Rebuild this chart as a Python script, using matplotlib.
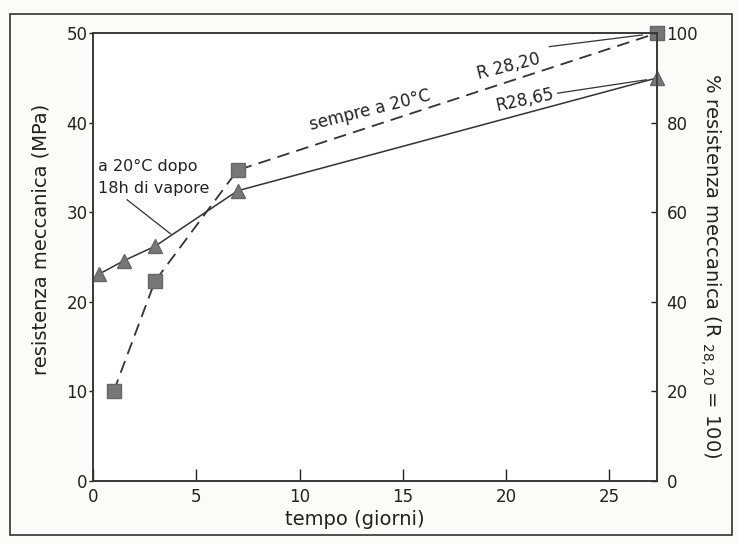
import matplotlib.pyplot as plt
from matplotlib.patches import Rectangle

# R 28,20 : sempre a 20°C (quadrati, tratteggio)
giorni_20 = [1, 3, 7, 27.3]
res_20 = [10.0, 22.3, 34.7, 50.0]

# R 28,65 : a 20°C dopo 18h di vapore (triangoli, linea continua)
giorni_65 = [0.3, 1.5, 3, 7, 27.3]
res_65 = [23.1, 24.6, 26.2, 32.4, 45.0]

x_ticks = [0, 5, 10, 15, 20, 25]
y_ticks = [0, 10, 20, 30, 40, 50]
perc_ticks = [0, 20, 40, 60, 80, 100]

txt = '#222222'
fig = plt.figure(figsize=(7.38, 5.44), dpi=100, facecolor='#fbfbfa')
fig.patches.append(Rectangle((0.014, 0.017), 0.978, 0.958, transform=fig.transFigure,
                             fill=False, edgecolor='#333333', linewidth=1.2))

ax = fig.add_axes([0.126, 0.116, 0.764, 0.823])
ax.set_facecolor('white')

ax.plot(giorni_20, res_20, color='#333333', lw=1.3, dashes=(7, 4),
        marker='s', ms=9.5, mfc='#777777', mec='#666666', clip_on=False, zorder=3)
ax.plot(giorni_65, res_65, color='#333333', lw=1.1,
        marker='^', ms=10, mfc='#777777', mec='#666666', clip_on=False, zorder=3)

ax.set_xlim(0, 27.3)
ax.set_ylim(0, 50)
ax.set_xticks(x_ticks)
ax.set_yticks(y_ticks)
ax.tick_params(axis='x', direction='in', length=9, width=1, labelsize=12,
               colors=txt, pad=5)
ax.tick_params(axis='y', direction='out', length=3, width=1, labelsize=12,
               colors=txt, pad=1)
for s in ax.spines.values():
    s.set_color('#333333')
    s.set_linewidth(1.1)

ax.set_xlabel('tempo (giorni)', fontsize=14, color=txt)
ax.xaxis.set_label_coords(0.465, -0.065)
ax.set_ylabel('resistenza meccanica (MPa)', fontsize=14, color=txt)
ax.yaxis.set_label_coords(-0.076, 0.54)

ax2 = ax.twinx()
ax2.set_ylim(0, 100)
ax2.set_yticks(perc_ticks)
ax2.tick_params(axis='y', direction='in', length=4, width=1, labelsize=12,
                colors=txt, pad=7)
ax2.set_ylabel(r'% resistenza meccanica (R $_{\mathregular{28,20}}$ = 100)',
               fontsize=14, color=txt, rotation=270)
ax2.yaxis.set_label_coords(1.118, 0.48)
for s in ax2.spines.values():
    s.set_color('#333333')
    s.set_linewidth(1.1)

# annotazioni
ax.text(13.4, 41.4, 'sempre a 20°C', rotation=14, ha='center', va='center',
        fontsize=12, color=txt)
ax.text(20.1, 46.3, 'R 28,20', rotation=14, ha='center', va='center',
        fontsize=12, color=txt)
ax.plot([22.1, 26.6], [48.5, 49.8], color='#333333', lw=0.9)
ax.text(20.9, 42.5, 'R28,65', rotation=12, ha='center', va='center',
        fontsize=12, color=txt)
ax.plot([22.5, 26.8], [43.3, 44.8], color='#333333', lw=0.9)
ax.text(0.25, 35.1, 'a 20°C dopo', ha='left', va='center', fontsize=11.5, color=txt)
ax.text(0.25, 32.6, '18h di vapore', ha='left', va='center', fontsize=11.5, color=txt)
ax.plot([1.65, 3.75], [31.4, 27.6], color='#333333', lw=0.9)

fig.savefig('out.png', dpi=100, facecolor=fig.get_facecolor())
